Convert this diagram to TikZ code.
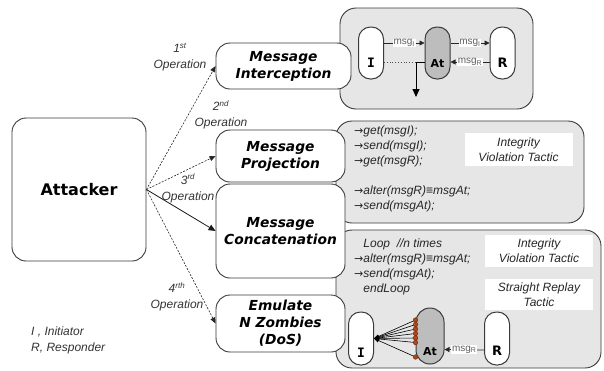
\documentclass[tikz,border=0pt]{standalone}
\usepackage{fontspec}
\setmainfont{Liberation Sans}
\newfontfamily\dvs{DejaVu Sans}
\newfontfamily\dvm{DejaVu Sans Mono}
\usetikzlibrary{arrows.meta,calc}
\definecolor{grayfill}{HTML}{E6E6E6}
\definecolor{atfill}{HTML}{BDBDBD}
\definecolor{edge}{HTML}{3A3A3A}
\definecolor{dotc}{HTML}{B0461A}
\definecolor{dotd}{HTML}{6B2A10}
\definecolor{msgtext}{HTML}{606060}
\newcommand\codearrow{{\dvs\upshape\fontsize{11}{11}\selectfont →}}
\begin{document}
\begin{tikzpicture}[x=1pt,y=-1pt,
  panel/.style={draw=edge, fill=grayfill, line width=0.9pt, rounded corners=16pt, inner sep=0pt},
  opbox/.style={draw=edge, fill=white, line width=0.9pt, rounded corners=14pt, align=center, inner sep=0pt,
     font=\dvs\bfseries\itshape\fontsize{13.8}{17}\selectfont},
  attbox/.style={draw=edge, fill=white, line width=0.9pt, rounded corners=14pt, inner sep=0pt,
     font=\dvs\bfseries\fontsize{16}{19}\selectfont},
  oplabel/.style={align=center, inner sep=0pt, font=\itshape\fontsize{12}{16}\selectfont, text=black!80},
  opline/.style={line width=0.6pt, draw=black!85, dash pattern=on 2pt off 1.4pt, -{Triangle[length=6pt,width=5pt]}},
  opsolid/.style={line width=0.8pt, draw=black!90, -{Triangle[length=7pt,width=6pt]}},
  pill/.style={draw=edge, fill=white, line width=1pt, rounded corners=12pt, minimum width=25pt, minimum height=52pt, inner sep=0pt},
  atpill/.style={pill, fill=atfill},
  pilltext/.style={inner sep=0pt, font=\dvs\bfseries\fontsize{13}{13}\selectfont},
  itext/.style={inner sep=0pt, font=\dvm\bfseries\fontsize{13}{13}\selectfont},
  attext/.style={inner sep=0pt, font=\dvs\bfseries\fontsize{11}{11}\selectfont},
  msgline/.style={line width=0.8pt, draw=black!85, -{Triangle[length=5pt,width=5pt]}},
  msglbl/.style={fill=white, inner sep=0.6pt, text=msgtext, font=\fontsize{10}{10}\selectfont},
  code/.style={align=left, anchor=north west, inner sep=0pt, font=\itshape\fontsize{12}{15}\selectfont, text=black!85},
  tactic/.style={fill=white, align=center, inner sep=0pt, minimum width=108pt, font=\itshape\fontsize{12}{15}\selectfont, text=black!85},
  zdot/.style={circle, fill=dotc, draw=dotd, line width=0.4pt, minimum size=4.6pt, inner sep=0pt},
  fan/.style={line width=0.6pt, draw=black, -{Triangle[length=5pt,width=4pt]}}
]
\useasboundingbox (0,0) rectangle (604,370);

% panels
\node[panel, minimum width=193pt, minimum height=101pt] (p1) at (436.5,58.5) {};
\node[panel, minimum width=248pt, minimum height=102pt] (p2) at (460,172) {};
\node[panel, minimum width=265pt, minimum height=138pt] (p3) at (468.5,299) {};

% attacker and operation boxes
\node[attbox, minimum width=134pt, minimum height=143pt] (att) at (79,189.5) {Attacker};
\node[opbox, minimum width=135pt, minimum height=46pt] (mi) at (283.5,66) {Message\\Interception};
\node[opbox, minimum width=129pt, minimum height=52pt] (mp) at (280.5,156) {Message\\Projection};
\node[opbox, minimum width=129pt, minimum height=94pt] (mc) at (280.5,231) {Message\\Concatenation};
\node[opbox, minimum width=129pt, minimum height=57pt] (me) at (280.5,323.5) {Emulate\\N Zombies\\(DoS)};

% operation arrows
\draw[opline] (att.east) -- (mi.west);
\draw[opline] (att.east) -- (mp.west);
\draw[opsolid] (att.east) -- (mc.west);
\draw[opline] (att.east) -- (me.west);

\node[oplabel] (l1) at (180,57) {1\textsuperscript{st}\\Operation};
\node[oplabel] (l2) at (221,115) {2\textsuperscript{nd}\\Operation};
\node[oplabel] (l3) at (188,188.5) {3\textsuperscript{rd}\\Operation};
\node[oplabel] (l4) at (177,297) {4\textsuperscript{rth}\\Operation};

\node[oplabel, align=left, anchor=west] (legend) at (31,340) {I , Initiator\\R, Responder};

% panel 1: interception
\node[pill] (i1) at (371,53) {};
\node[atpill] (a1) at (437.5,53) {};
\node[pill] (r1) at (502.5,53) {};
\node[itext] (i1t) at ($(i1.center)+(0,10)$) {I};
\node[attext] (a1t) at ($(a1.center)+(0,10)$) {At};
\node[pilltext] (r1t) at ($(r1.center)+(0,10)$) {R};
\draw[msgline] ($(i1.east)+(0,-10)$) -- node[msglbl]{msg\textsubscript{I}} ($(a1.west)+(0,-10)$);
\draw[msgline] ($(a1.east)+(0,-10)$) -- node[msglbl]{msg\textsubscript{I}} ($(r1.west)+(0,-10)$);
\draw[msgline] ($(r1.west)+(0,9)$) -- node[msglbl]{msg\textsubscript{R}} ($(a1.east)+(0,9)$);
\coordinate (turn) at (416,62);
\coordinate (down) at (416,97);
\draw[line width=0.8pt, draw=black!70, dotted] ($(i1.east)+(0,9)$) -- (turn);
\draw[line width=1pt, draw=black, -{Triangle[length=8pt,width=7pt]}] ($(a1.west)+(0,9)$) -- (turn) -- (down);

% panel 2: projection
\node[code] (c2) at (354,125.5) {\codearrow get(msgI);\\\codearrow send(msgI);\\\codearrow get(msgR);\\[15pt]\codearrow alter(msgR)≡msgAt;\\\codearrow send(msgAt);};
\node[tactic, minimum height=33pt] (t2) at (518.5,149.5) {Integrity\\Violation Tactic};

% panel 3: concatenation / DoS
\node[code] (c3) at (354,238.5) {\phantom{\codearrow}Loop\ \ //n times\\\codearrow alter(msgR)≡msgAt;\\\codearrow send(msgAt);\\\phantom{\codearrow}endLoop};
\node[tactic, minimum height=32pt] (t3a) at (539,251) {Integrity\\Violation Tactic};
\node[tactic, minimum height=31pt] (t3b) at (539,294.5) {Straight Replay\\Tactic};

\node[pill, minimum height=53pt] (i3) at (361,338.5) {};
\node[atpill, minimum width=28pt, minimum height=56pt, rounded corners=14pt] (a3) at (430,336) {};
\node[pill, minimum height=53pt] (r3) at (497,338.5) {};
\node[itext] (i3t) at ($(i3.center)+(0,14)$) {I};
\node[attext] (a3t) at ($(a3.center)+(0,15)$) {At};
\node[pilltext] (r3t) at ($(r3.center)+(0,12)$) {R};
\draw[msgline] ($(r3.west)+(0,11.5)$) -- node[msglbl]{msg\textsubscript{R}} ($(a3.east)+(0,13.5)$);

\foreach \k/\dy in {1/-16,2/-11.5,3/-7,4/-2.5,5/2,6/6.5,7/21} {
  \coordinate (dd\k) at ($(a3.west)+(0,\dy)$);
  \draw[fan] (dd\k) -- (i3.east);
}
\foreach \k in {1,...,7} {
  \node[zdot] (z\k) at (dd\k) {};
}
\end{tikzpicture}
\end{document}
